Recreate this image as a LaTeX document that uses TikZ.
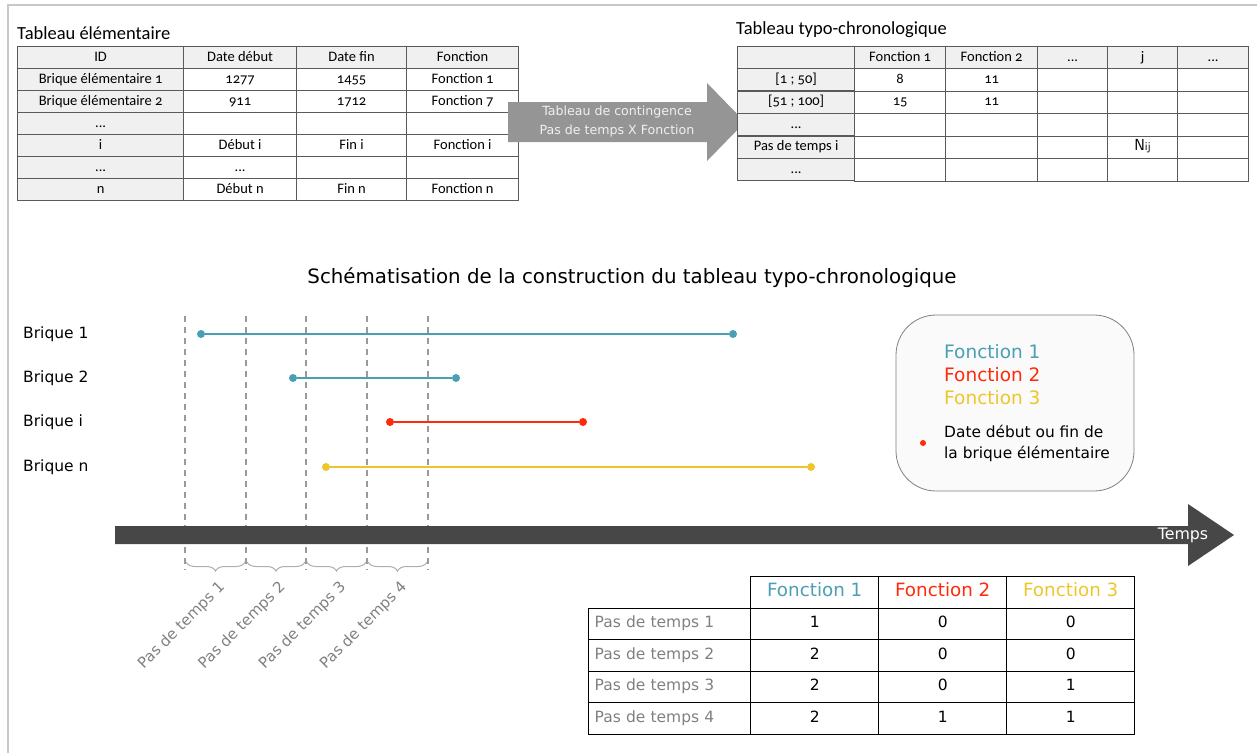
\documentclass[tikz,border=0pt]{standalone}
\usepackage{fontspec}
\setmainfont{DejaVu Sans}
\newfontfamily\calib[Numbers=OldStyle]{Carlito}
\usetikzlibrary{matrix, decorations.pathreplacing, positioning}

\definecolor{fonc1}{HTML}{4A9FB5}
\definecolor{fonc2}{HTML}{FF2A0A}
\definecolor{fonc3}{HTML}{EEC62C}
\definecolor{cellgray}{HTML}{F0F0F0}
\definecolor{gridgray}{HTML}{5A5A5A}
\definecolor{arrowgray}{HTML}{959595}
\definecolor{axisgray}{HTML}{474747}
\definecolor{dashgray}{HTML}{9A9A9A}
\definecolor{stepgray}{HTML}{808080}
\definecolor{framegray}{HTML}{C8C8C8}

\tikzset{
  cell/.style={draw=gridgray, line width=0.8pt, inner sep=0pt, anchor=center,
    text height=10pt, text depth=3pt, minimum height=22pt, font=\calib\fontsize{14.5}{16}\selectfont},
  headcell/.style={cell, fill=cellgray},
  ttitle/.style={anchor=west, inner sep=0pt, font=\calib\fontsize{18.5}{20}\selectfont},
  briquelabel/.style={anchor=west, inner sep=0pt, font=\fontsize{15.5}{18}\selectfont},
  dot/.style={circle, fill=#1, inner sep=0pt, minimum size=8pt},
  seg/.style={line width=2pt, draw=#1},
  steplabel/.style={anchor=east, rotate=45, inner sep=0pt, text=stepgray, font=\fontsize{15}{17}\selectfont},
  legendtext/.style={anchor=west, inner sep=0pt, font=\fontsize{18.5}{20}\selectfont},
  bcell/.style={draw=black, line width=1pt, inner sep=0pt, anchor=center, text height=11pt, text depth=3pt,
    minimum width=128pt, minimum height=31.5pt, font=\fontsize{15.5}{18}\selectfont}
}

\begin{document}
\begin{tikzpicture}[x=1pt, y=-1pt]
  \useasboundingbox (0,0) rectangle (1257,753);
  \draw[framegray, line width=2pt] (8,753) -- (8,5) -- (1257,5);

  % tableau elementaire
  \node[ttitle] (titreelem) at (17,33) {Tableau élémentaire};
  \matrix (elem) [matrix of nodes, anchor=north west, inner sep=0pt,
    nodes in empty cells, column sep=-0.8pt, row sep=-0.8pt,
    nodes={cell},
    row 1/.style={nodes={headcell}},
    column 1/.style={nodes={headcell, minimum width=166pt}},
    column 2/.style={nodes={minimum width=113pt}},
    column 3/.style={nodes={minimum width=110pt}},
    column 4/.style={nodes={minimum width=112pt}}] at (17,46) {
    ID & Date début & Date fin & Fonction \\
    Brique élémentaire 1 & 1277 & 1455 & Fonction 1 \\
    Brique élémentaire 2 & 911 & 1712 & Fonction 7 \\
    ... & & & \\
    i & Début i & Fin i & Fonction i \\
    ... & ... & & \\
    n & Début n & Fin n & Fonction n \\
  };

  % fleche de contingence
  \fill[arrowgray] (508,102) -- (707,102) -- (707,83) -- (745,122)
    -- (707,161) -- (707,142) -- (508,142) -- cycle;
  \node[align=center, text=white!94!black, font=\fontsize{12.6}{19}\selectfont] (contingence) at (617,122)
    {Tableau de contingence\\Pas de temps X Fonction};

  % tableau typo-chronologique
  \node[ttitle] (titretypo) at (736,30) {Tableau typo-chronologique};
  \matrix (typo) [matrix of nodes, anchor=north west, inner sep=0pt,
    nodes in empty cells, column sep=-0.8pt, row sep=-0.8pt,
    nodes={cell, minimum height=22.5pt},
    row 1/.style={nodes={headcell}},
    column 1/.style={nodes={headcell, minimum width=117pt}},
    column 2/.style={nodes={minimum width=91pt}},
    column 3/.style={nodes={minimum width=92pt}},
    column 4/.style={nodes={minimum width=70pt}},
    column 5/.style={nodes={minimum width=70pt}},
    column 6/.style={nodes={minimum width=71pt}}] at (737,46) {
    & Fonction 1 & Fonction 2 & ... & j & ... \\
    {[1 ; 50]} & 8 & 11 & & & \\
    {[51 ; 100]} & 15 & 11 & & & \\
    ... & & & & & \\
    Pas de temps i & & & & {\fontsize{16}{16}\selectfont\sffamily N{\fontsize{12}{12}\selectfont ij}} & \\
    ... & & & & & \\
  };

  % schematisation
  \node[font=\fontsize{19.8}{22}\selectfont] (titreschema) at (632,278)
    {Schématisation de la construction du tableau typo-chronologique};

  \foreach \x in {185,246,306,367,428}
    \draw[dashgray, line width=1.5pt, dash pattern=on 6pt off 5pt] (\x,316) -- (\x,570);

  \node[briquelabel] (lb1) at (23,334) {Brique 1};
  \node[briquelabel] (lb2) at (23,378) {Brique 2};
  \node[briquelabel] (lbi) at (23,422) {Brique i};
  \node[briquelabel] (lbn) at (23,467) {Brique n};

  \node[dot=fonc1] (b1s) at (201,334) {};
  \node[dot=fonc1] (b1e) at (733,334) {};
  \node[dot=fonc1] (b2s) at (293,378) {};
  \node[dot=fonc1] (b2e) at (456,378) {};
  \node[dot=fonc2] (bis) at (390,422) {};
  \node[dot=fonc2] (bie) at (583,422) {};
  \node[dot=fonc3] (bns) at (326,467) {};
  \node[dot=fonc3] (bne) at (811,467) {};
  \draw[seg=fonc1] (b1s) -- (b1e);
  \draw[seg=fonc1] (b2s) -- (b2e);
  \draw[seg=fonc2] (bis) -- (bie);
  \draw[seg=fonc3] (bns) -- (bne);

  % axe du temps
  \fill[axisgray] (115,526) -- (1188,526) -- (1188,504) -- (1234,535)
    -- (1188,566) -- (1188,544) -- (115,544) -- cycle;
  \node[text=white, font=\fontsize{15.8}{18}\selectfont] (temps) at (1183,535) {Temps};

  % pas de temps
  \foreach \a/\b/\k in {185/246/1, 246/306/2, 306/367/3, 367/428/4} {
    \draw[dashgray!80, line width=1pt, decorate,
      decoration={brace, mirror, amplitude=9pt}] (\a+1,562) -- (\b-1,562);
    \node[steplabel] (pas\k) at ({(\a+\b)/2+7},585) {Pas de temps \k};
  }

  % legende
  \node[draw=gray, fill=black!2, rounded corners=40pt, minimum width=238pt,
    minimum height=176pt, line width=0.8pt] (legende) at (1015,403) {};
  \node[legendtext, text=fonc1] (lf1) at (944,352) {Fonction 1};
  \node[legendtext, text=fonc2] (lf2) at (944,375) {Fonction 2};
  \node[legendtext, text=fonc3] (lf3) at (944,398) {Fonction 3};
  \node[dot=fonc2, minimum size=6pt] (ldot) at (923,443) {};
  \node[anchor=west, inner sep=0pt, align=left, font=\fontsize{15.4}{21}\selectfont] (ldate) at (944,443)
    {Date début ou fin de\\la brique élémentaire};

  % tableau resultat
  \matrix (resultat) [matrix of nodes, anchor=north west, inner sep=0pt,
    nodes in empty cells, column sep=-1pt, row sep=-1pt,
    nodes={bcell},
    column 1/.style={nodes={text width=150pt, align=left, minimum width=162pt,
      inner xsep=6pt, text=stepgray}}] at (588,576) {
    |[draw=none]| & |[text=fonc1, font=\fontsize{18.3}{20}\selectfont]| Fonction 1
      & |[text=fonc2, font=\fontsize{18.3}{20}\selectfont]| Fonction 2
      & |[text=fonc3, font=\fontsize{18.3}{20}\selectfont]| Fonction 3 \\
    Pas de temps 1 & 1 & 0 & 0 \\
    Pas de temps 2 & 2 & 0 & 0 \\
    Pas de temps 3 & 2 & 0 & 1 \\
    Pas de temps 4 & 2 & 1 & 1 \\
  };
\end{tikzpicture}
\end{document}
